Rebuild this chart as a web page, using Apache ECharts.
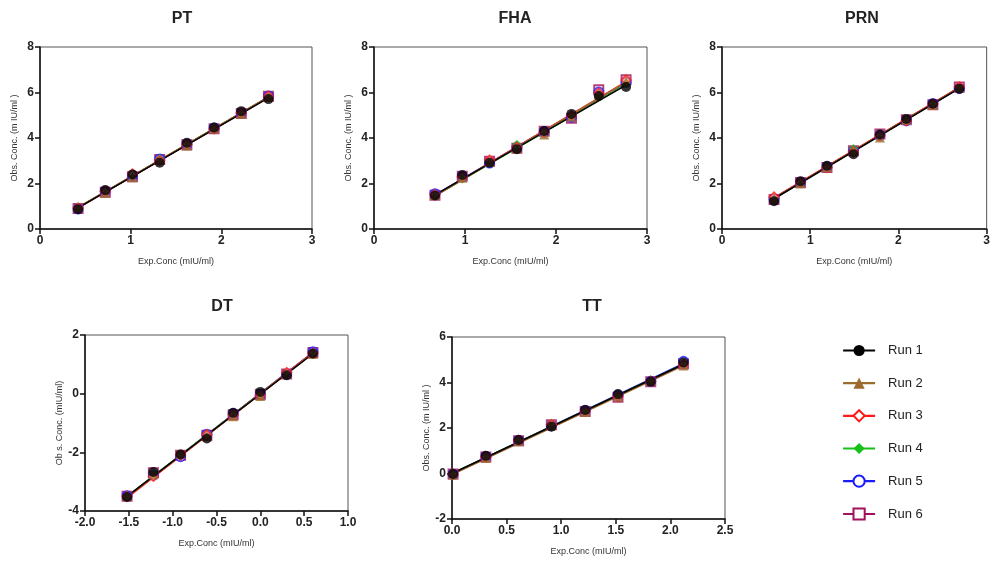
<!DOCTYPE html>
<html>
<head>
<meta charset="utf-8">
<script src="https://cdn.jsdelivr.net/npm/echarts@6/dist/echarts.min.js"></script>
<style>html,body{margin:0;padding:0;background:#fff;}#c{width:993px;height:563px;}</style>
</head>
<body>
<div id="c"></div>
<script>
// ---------- data ----------
const runNames = ['Run 1','Run 2','Run 3','Run 4','Run 5','Run 6'];
const panelTitles = ['PT','FHA','PRN','DT','TT'];

const PT_x = [0.42,0.72,1.02,1.32,1.62,1.92,2.22,2.52];
const PT_run1 = [0.87,1.71,2.40,2.91,3.79,4.46,5.18,5.71];
const PT_run2 = [0.98,1.58,2.28,3.05,3.66,4.42,5.05,5.80];
const PT_run3 = [0.92,1.65,2.42,3.02,3.72,4.40,5.10,5.84];
const PT_run4 = [0.90,1.68,2.33,3.10,3.75,4.48,5.12,5.82];
const PT_run5 = [0.88,1.66,2.35,3.08,3.73,4.44,5.10,5.85];
const PT_run6 = [0.90,1.62,2.30,3.06,3.70,4.41,5.08,5.83];
const PT_fit = [[0.93,5.76],[0.95,5.78],[0.94,5.80],[0.95,5.81],[0.94,5.80],[0.93,5.79]];

const FHA_x = [0.67,0.97,1.27,1.57,1.87,2.17,2.47,2.77];
const FHA_run1 = [1.47,2.37,2.91,3.51,4.31,5.06,5.85,6.24];
const FHA_run2 = [1.50,2.25,2.95,3.55,4.15,4.95,5.95,6.50];
const FHA_run3 = [1.52,2.28,3.03,3.60,4.25,4.98,5.98,6.55];
const FHA_run4 = [1.50,2.20,2.95,3.72,4.22,5.00,5.90,6.40];
const FHA_run5 = [1.55,2.30,2.90,3.58,4.28,4.92,6.02,6.45];
const FHA_run6 = [1.48,2.32,2.98,3.55,4.30,4.87,6.12,6.56];
const FHA_fit = [[1.50,6.32],[1.45,6.45],[1.47,6.48],[1.46,6.36],[1.50,6.42],[1.46,6.46]];

const PRN_x = [0.59,0.89,1.19,1.49,1.79,2.09,2.39,2.69];
const PRN_run1 = [1.22,2.10,2.78,3.29,4.15,4.84,5.51,6.16];
const PRN_run2 = [1.35,2.00,2.72,3.45,4.02,4.80,5.45,6.22];
const PRN_run3 = [1.41,2.05,2.70,3.40,4.10,4.75,5.50,6.25];
const PRN_run4 = [1.30,1.98,2.75,3.54,4.08,4.82,5.48,6.20];
const PRN_run5 = [1.32,2.06,2.74,3.42,4.12,4.76,5.52,6.18];
const PRN_run6 = [1.30,2.04,2.70,3.44,4.18,4.80,5.46,6.24];
const PRN_fit = [[1.33,6.18],[1.36,6.20],[1.38,6.22],[1.35,6.21],[1.36,6.19],[1.34,6.22]];

const DT_x = [-1.52,-1.22,-0.91,-0.61,-0.31,0.00,0.30,0.60];
const DT_run1 = [-3.52,-2.67,-2.07,-1.53,-0.65,0.06,0.63,1.37];
const DT_run2 = [-3.48,-2.75,-2.05,-1.45,-0.77,-0.08,0.68,1.35];
const DT_run3 = [-3.50,-2.82,-2.10,-1.40,-0.72,-0.05,0.72,1.38];
const DT_run4 = [-3.50,-2.72,-2.08,-1.36,-0.70,0.00,0.66,1.40];
const DT_run5 = [-3.48,-2.78,-2.15,-1.38,-0.68,-0.02,0.66,1.43];
const DT_run6 = [-3.50,-2.70,-2.10,-1.42,-0.72,-0.03,0.67,1.40];
const DT_fit = [[-3.50,1.36],[-3.52,1.37],[-3.55,1.40],[-3.50,1.39],[-3.52,1.41],[-3.51,1.39]];

const TT_x = [0.01,0.31,0.61,0.91,1.22,1.52,1.82,2.12];
const TT_run1 = [-0.02,0.78,1.47,2.06,2.79,3.49,4.04,4.88];
const TT_run2 = [-0.05,0.68,1.42,2.12,2.70,3.40,4.10,4.75];
const TT_run3 = [-0.04,0.72,1.45,2.15,2.74,3.38,4.06,4.80];
const TT_run4 = [0.00,0.74,1.48,2.20,2.76,3.42,4.02,4.85];
const TT_run5 = [-0.03,0.75,1.46,2.10,2.78,3.44,4.05,4.93];
const TT_run6 = [-0.02,0.73,1.44,2.14,2.72,3.35,4.03,4.82];
const TT_fit = [[0.02,4.80],[-0.02,4.74],[0.00,4.78],[0.03,4.80],[0.01,4.84],[0.00,4.79]];

// axis ranges / ticks
const xMin = [0,0,0,-2,0], xMax = [3,3,3,1,2.5], xInt = [1,1,1,0.5,0.5];
const yMin = [0,0,0,-4,-2], yMax = [8,8,8,2,6], yInt = [2,2,2,2,2];
const xAxisNames = ['Exp.Conc (mIU/ml)','Exp.Conc (mIU/ml)','Exp.Conc (mIU/ml)','Exp.Conc (mIU/ml)','Exp.Conc (mIU/ml)'];
const yAxisNames = ['Obs. Conc. (m IU/ml )','Obs. Conc. (m IU/ml )','Obs. Conc. (m IU/ml )','Ob s. Conc. (mIU/ml)','Obs. Conc. (m IU/ml )'];

// ---------- styles ----------
const runColors = ['#000000','#9c6b2e','#ff1a1a','#19c019','#1a1aff','#a0125a'];
const runSymbols = ['circle','triangle','emptyDiamond','diamond','emptyCircle','emptyRect'];
const runSizes = [10,10,9,9,9,9];

const grids = [
  {left:40, top:47, width:272, height:182},
  {left:374, top:47, width:273, height:182},
  {left:722, top:47, width:272, height:182},
  {left:85, top:335, width:263, height:176},
  {left:452, top:337, width:273, height:182}
];
const titlePos = [[177,6],[510,6],[857,6],[217,294],[587,294]];

const panelX = [PT_x, FHA_x, PRN_x, DT_x, TT_x];
const panelRuns = [
  [PT_run1,PT_run2,PT_run3,PT_run4,PT_run5,PT_run6],
  [FHA_run1,FHA_run2,FHA_run3,FHA_run4,FHA_run5,FHA_run6],
  [PRN_run1,PRN_run2,PRN_run3,PRN_run4,PRN_run5,PRN_run6],
  [DT_run1,DT_run2,DT_run3,DT_run4,DT_run5,DT_run6],
  [TT_run1,TT_run2,TT_run3,TT_run4,TT_run5,TT_run6]
];
const panelFits = [PT_fit, FHA_fit, PRN_fit, DT_fit, TT_fit];

const FONT = 'Liberation Sans, Arial, sans-serif';

const option = {
  backgroundColor:'#fff',
  animation:false,
  title: panelTitles.map((t,i)=>({
    text:t, left:titlePos[i][0], top:titlePos[i][1], textAlign:'center',
    textStyle:{fontFamily:FONT, fontSize:16, fontWeight:'bold', color:'#222'}
  })),
  grid: grids.map(g=>Object.assign({show:true, borderColor:'#555', borderWidth:1, backgroundColor:'transparent'}, g)),
  xAxis: grids.map((g,i)=>({
    type:'value', gridIndex:i, min:xMin[i], max:xMax[i], interval:xInt[i],
    name:xAxisNames[i], nameLocation:'middle', nameGap:28,
    nameTextStyle:{fontFamily:FONT, fontSize:9, color:'#333'},
    axisLine:{show:true, onZero:false, lineStyle:{color:'#111', width:1.5}},
    axisTick:{show:true, inside:false, length:5, lineStyle:{color:'#111', width:1.5}},
    axisLabel:{fontFamily:FONT, fontSize:12, fontWeight:'bold', color:'#222', margin:6,
      formatter: v => xInt[i] < 1 ? v.toFixed(1) : String(v)},
    splitLine:{show:false}
  })),
  yAxis: grids.map((g,i)=>({
    type:'value', gridIndex:i, min:yMin[i], max:yMax[i], interval:yInt[i],
    name:yAxisNames[i], nameLocation:'middle', nameGap:21,
    nameTextStyle:{fontFamily:FONT, fontSize:9, color:'#333'},
    axisLine:{show:true, onZero:false, lineStyle:{color:'#111', width:1.5}},
    axisTick:{show:true, inside:false, length:5, lineStyle:{color:'#111', width:1.5}},
    axisLabel:{fontFamily:FONT, fontSize:12, fontWeight:'bold', color:'#222', margin:6},
    splitLine:{show:false}
  })),
  legend:{
    orient:'vertical', left:837, top:339, itemWidth:32, itemHeight:14, itemGap:19.6,
    data: runNames,
    lineStyle:{width:2.2},
    textStyle:{fontFamily:FONT, fontSize:13, color:'#222', padding:[0,0,0,8]}
  },
  series: []
};

for (let p = 0; p < 5; p++) {
  const xs = panelX[p];
  // fit lines (drawn first)
  for (let r = 5; r >= 0; r--) {
    const f = panelFits[p][r];
    option.series.push({
      type:'line', name:runNames[r], xAxisIndex:p, yAxisIndex:p,
      data:[[xs[0], f[0]], [xs[xs.length-1], f[1]]],
      symbol:runSymbols[r], symbolSize:runSizes[r], showSymbol:false,
      color:runColors[r],
      lineStyle:{color:runColors[r], width:1.5}, z:2, silent:true
    });
  }
  // points
  for (let r = 5; r >= 0; r--) {
    option.series.push({
      type:'scatter', name:runNames[r], xAxisIndex:p, yAxisIndex:p,
      data: xs.map((x,k)=>[x, panelRuns[p][r][k]]),
      symbol:runSymbols[r], symbolSize:runSizes[r],
      itemStyle: runSymbols[r].indexOf('empty')===0
        ? {color:runColors[r], borderColor:runColors[r], borderWidth:1.8}
        : {color:runColors[r]},
      z:3
    });
  }
}

const chart = echarts.init(document.getElementById('c'), null, {renderer:'canvas'});
chart.setOption(option);
</script>
</body>
</html>
